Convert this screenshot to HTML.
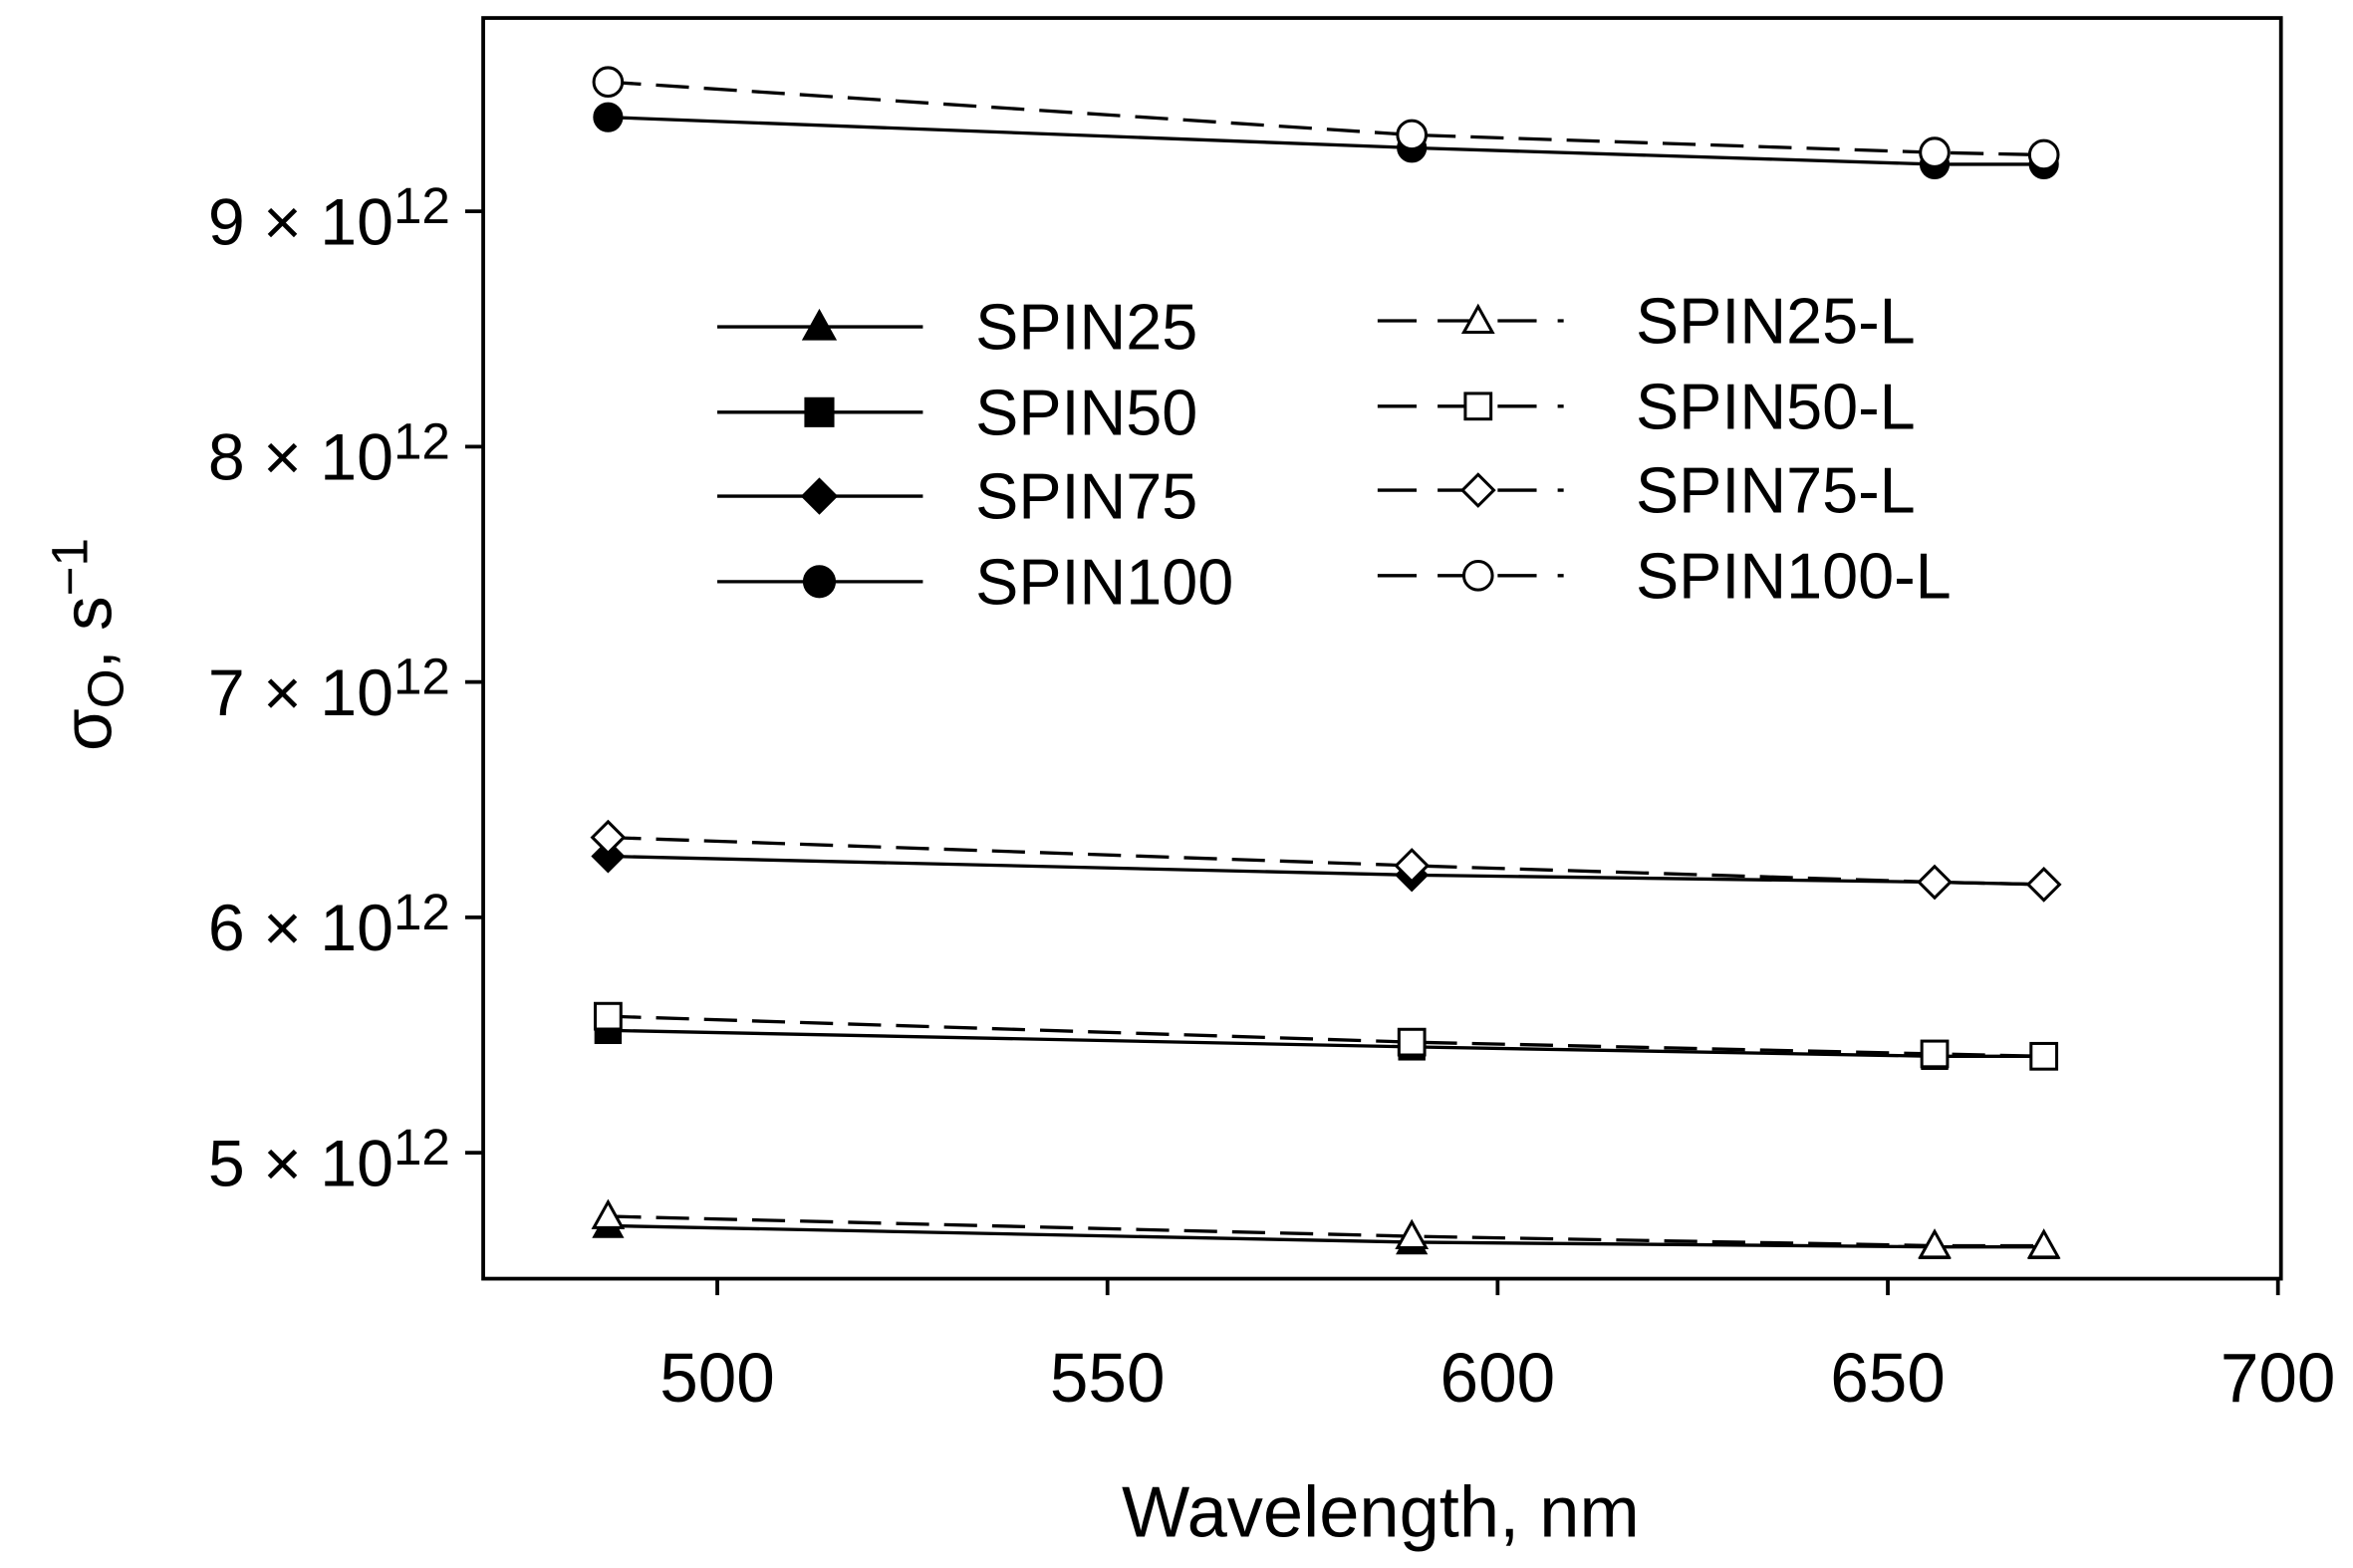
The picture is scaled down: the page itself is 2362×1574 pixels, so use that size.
<!DOCTYPE html>
<html><head><meta charset="utf-8"><style>
html,body{margin:0;padding:0;background:#fff}
svg{display:block}
text{font-family:"Liberation Sans",Arial,sans-serif;fill:#000}
</style></head><body>
<svg id="chart" width="2362" height="1574" viewBox="0 0 1568 1046" preserveAspectRatio="none" xmlns="http://www.w3.org/2000/svg">
<rect x="0" y="0" width="1568" height="1046" fill="#fff"/>
<rect x="322" y="12" width="1198" height="841" fill="none" stroke="#000" stroke-width="2.5"/>
<g id="axes"></g>
<g id="series"></g>
<g id="legend"></g>
<text x="920" y="1025" font-size="48" text-anchor="middle">Wavelength, nm</text>
<text transform="translate(74,430) rotate(-90)" font-size="46" text-anchor="middle">σ<tspan font-size="34" dy="8">O</tspan><tspan dy="-8">, s</tspan><tspan font-size="34" dy="-16">−1</tspan></text>
</svg>
<script>
const wavelengths=[486,589,656,670];
const seriesNames=["SPIN25","SPIN50","SPIN75","SPIN100","SPIN25-L","SPIN50-L","SPIN75-L","SPIN100-L"];
const spin25=[4.69,4.62,4.60,4.60];
const spin50=[5.52,5.45,5.41,5.41];
const spin75=[6.26,6.18,6.15,6.14];
const spin100=[9.40,9.27,9.20,9.20];
const spin25L=[4.73,4.645,4.605,4.605];
const spin50L=[5.58,5.47,5.42,5.41];
const spin75L=[6.34,6.22,6.15,6.14];
const spin100L=[9.55,9.325,9.25,9.24];
const xTicks=[500,550,600,650,700];
const yTicks=[5,6,7,8,9];

const NS="http://www.w3.org/2000/svg";
function X(v){return 478+(v-500)*5.2;}
function Y(v){return 141+(9-v)*157;}
function mk(tag,attrs,parent){const e=document.createElementNS(NS,tag);for(const k in attrs)e.setAttribute(k,attrs[k]);parent.appendChild(e);return e;}
const axes=document.getElementById('axes');
xTicks.forEach(t=>{
  const l=mk('line',{x1:X(t),x2:X(t),y1:853,y2:864,stroke:'#000','stroke-width':2.5},axes);
  
  
  const tx=mk('text',{x:X(t),y:935,'font-size':46,'text-anchor':'middle'},axes);
  tx.textContent=t;
  
  
});
yTicks.forEach(t=>{
  const l=mk('line',{x1:310,x2:322,y1:Y(t),y2:Y(t),stroke:'#000','stroke-width':2.5},axes);
  
  
  const tx=mk('text',{x:300,y:Y(t)+22,'font-size':44,'text-anchor':'end'},axes);
  tx.innerHTML=t+' × 10<tspan font-size="34" dy="-14">12</tspan>';
  
  
});
function marker(g,type,filled,x,y,s){
  const f=filled?'#000':'#fff';const a={fill:f,stroke:'#000','stroke-width':2};let e;
  if(type==='tri'){a.points=`${x},${y-s} ${x+s},${y+s*0.8} ${x-s},${y+s*0.8}`;e=mk('polygon',a,g);}
  else if(type==='sq'){a.x=x-s*0.9;a.y=y-s*0.9;a.width=s*1.8;a.height=s*1.8;e=mk('rect',a,g);}
  else if(type==='dia'){a.points=`${x},${y-s*1.1} ${x+s*1.1},${y} ${x},${y+s*1.1} ${x-s*1.1},${y}`;e=mk('polygon',a,g);}
  else {a.cx=x;a.cy=y;a.r=s;e=mk('circle',a,g);}
  return e;
}
const allData=[spin25,spin50,spin75,spin100,spin25L,spin50L,spin75L,spin100L];
const types=['tri','sq','dia','circ'];
const sg=document.getElementById('series');
[0,1,2,3,4,5,6,7].forEach(i=>{
  const d=allData[i];const open=i>=4;
  const g=mk('g',{},sg);
  
  
  const pts=d.map((v,j)=>X(wavelengths[j])+','+Y(v)).join(' ');
  const pl=mk('polyline',{points:pts,fill:'none',stroke:'#000','stroke-width':2.2,'stroke-dasharray':open?'22,10':'none'},g);
  
  
  d.forEach((v,j)=>{
    const m=marker(g,types[i%4],!open,X(wavelengths[j]),Y(v),open?9.5:9);
    
    
  });
});
const lg=document.getElementById('legend');
const legY1=[218,275,331,388],legY2=[214,271,327,384];
for(let i=0;i<8;i++){
  const open=i>=4;const y=open?legY2[i-4]:legY1[i];
  const x0=open?918:478,x1=open?1042:615,mx=open?985:546,tx=open?1090:650;
  const g=mk('g',{},lg);
  
  
  mk('line',{x1:x0,x2:x1,y1:y,y2:y,stroke:'#000','stroke-width':2.2,'stroke-dasharray':open?'26,14':'none'},g);
  marker(g,types[i%4],!open,mx,y,open?9.5:10);
  const t=mk('text',{x:tx,y:y+15,'font-size':43},g);
  t.textContent=seriesNames[i];
}
</script>
</body></html>
